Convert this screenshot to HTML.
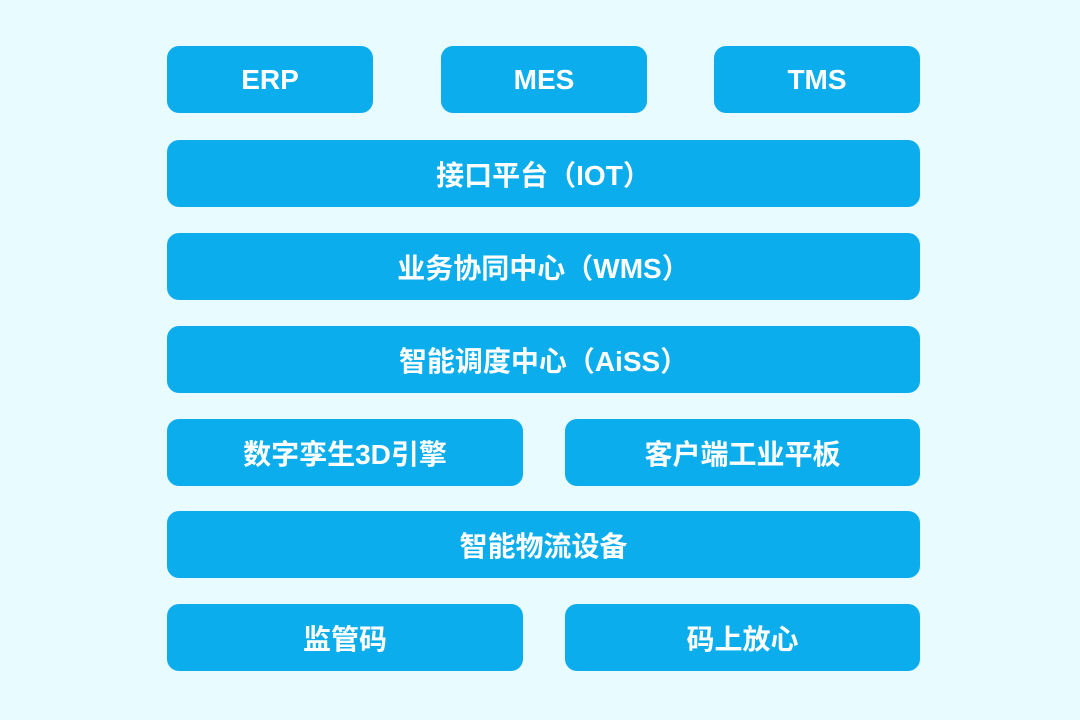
<!DOCTYPE html>
<html><head><meta charset="utf-8"><style>
body{margin:0;width:1080px;height:720px;background:#e8fbff;position:relative;overflow:hidden;font-family:"Liberation Sans","Noto Sans CJK SC",sans-serif}
.b{position:absolute;height:67px;background:#0cadec;border-radius:12px;color:#fff;font-weight:bold;font-size:28px;display:flex;align-items:center;justify-content:center}
</style></head><body>
<div class="b" style="left:167px;top:46px;width:206px">ERP</div>
<div class="b" style="left:441px;top:46px;width:206px">MES</div>
<div class="b" style="left:714px;top:46px;width:206px">TMS</div>
<div class="b" style="left:167px;top:140px;width:753px">接口平台（IOT）</div>
<div class="b" style="left:167px;top:233px;width:753px">业务协同中心（WMS）</div>
<div class="b" style="left:167px;top:326px;width:753px">智能调度中心（AiSS）</div>
<div class="b" style="left:167px;top:419px;width:356px">数字孪生3D引擎</div>
<div class="b" style="left:565px;top:419px;width:355px">客户端工业平板</div>
<div class="b" style="left:167px;top:511px;width:753px">智能物流设备</div>
<div class="b" style="left:167px;top:604px;width:356px">监管码</div>
<div class="b" style="left:565px;top:604px;width:355px">码上放心</div>
</body></html>
